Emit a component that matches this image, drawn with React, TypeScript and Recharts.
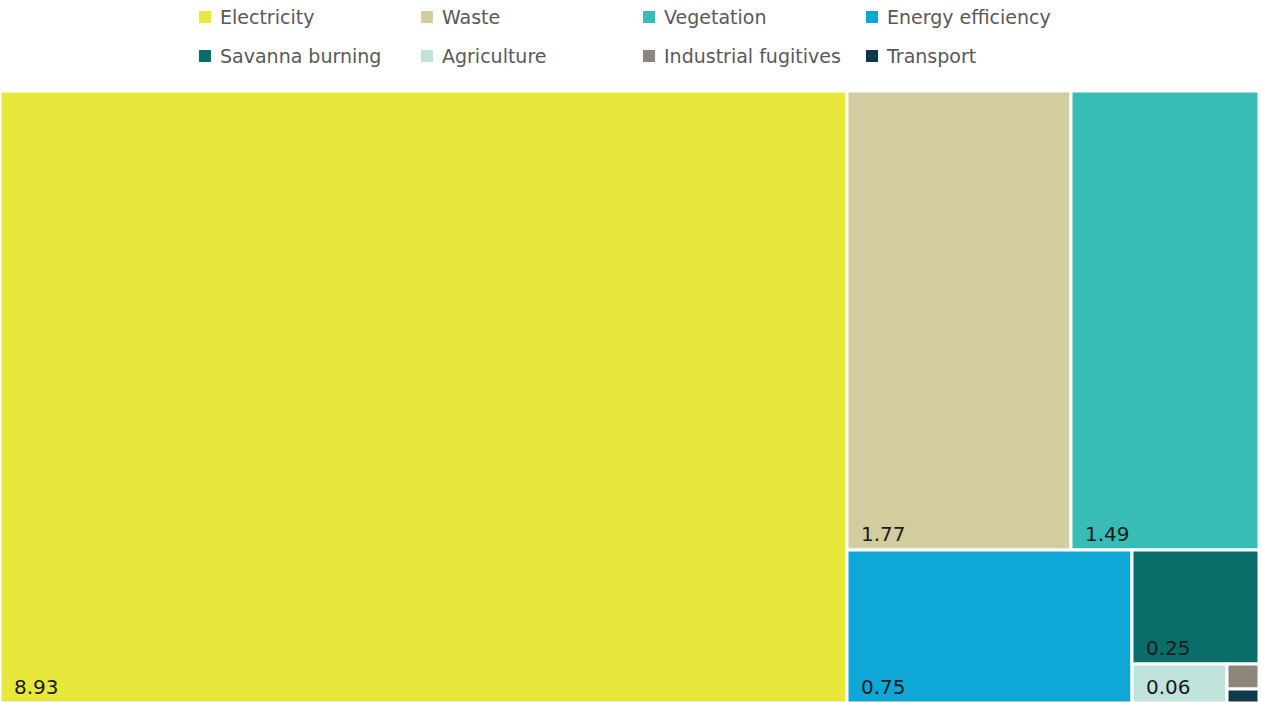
import { Treemap } from 'recharts';

const sectors = ['Electricity', 'Waste', 'Vegetation', 'Energy efficiency', 'Savanna burning', 'Agriculture', 'Industrial fugitives', 'Transport'];
const values = [8.93, 1.77, 1.49, 0.75, 0.25, 0.064, 0.014, 0.007];
const colors = ['#e8e73c', '#d2cd9f', '#38bdb6', '#0ea7d6', '#0a6d69', '#c0e3dc', '#8c867b', '#0e3b4a'];

const data = sectors.map((name, i) => ({ name, size: values[i] }));
const colorOf: Record<string, string> = {};
sectors.forEach((s, i) => { colorOf[s] = colors[i]; });

const FONT = '"DejaVu Sans", Verdana, sans-serif';

function Cell(props: any) {
  const { x, y, width, height, name, value, depth } = props;
  if (depth !== 1) return null;
  return (
    <g>
      <rect x={x} y={y} width={width} height={height} fill={colorOf[name]} stroke="#fff" strokeWidth={3} />
      {width > 50 && height > 30 && (
        <text x={x + 14} y={y + height - 9} fontSize={20} fontFamily={FONT} fill="#1a1a1a">
          {Number(value).toFixed(2)}
        </text>
      )}
    </g>
  );
}

export default function App() {
  return (
    <div style={{ position: 'absolute', left: 0, top: 0, width: 1262, height: 702, background: '#fff', overflow: 'hidden' }}>
      <div style={{ position: 'absolute', left: 199, top: -1, display: 'grid', gridTemplateColumns: '222px 222px 223px 200px', gridAutoRows: '39px', fontFamily: FONT, fontSize: 19, color: '#595959' }}>
        {sectors.map((s, i) => (
          <div key={s} style={{ display: 'flex', alignItems: 'center', height: 36, whiteSpace: 'nowrap' }}>
            <span style={{ display: 'inline-block', width: 12, height: 12, background: colors[i], marginRight: 9 }} />
            {s}
          </div>
        ))}
      </div>
      <div style={{ position: 'absolute', left: 0, top: 91 }}>
        <Treemap
          width={1259}
          height={612}
          data={data}
          dataKey="size"
          nameKey="name"
          content={<Cell />}
          isAnimationActive={false}
        />
      </div>
    </div>
  );
}
